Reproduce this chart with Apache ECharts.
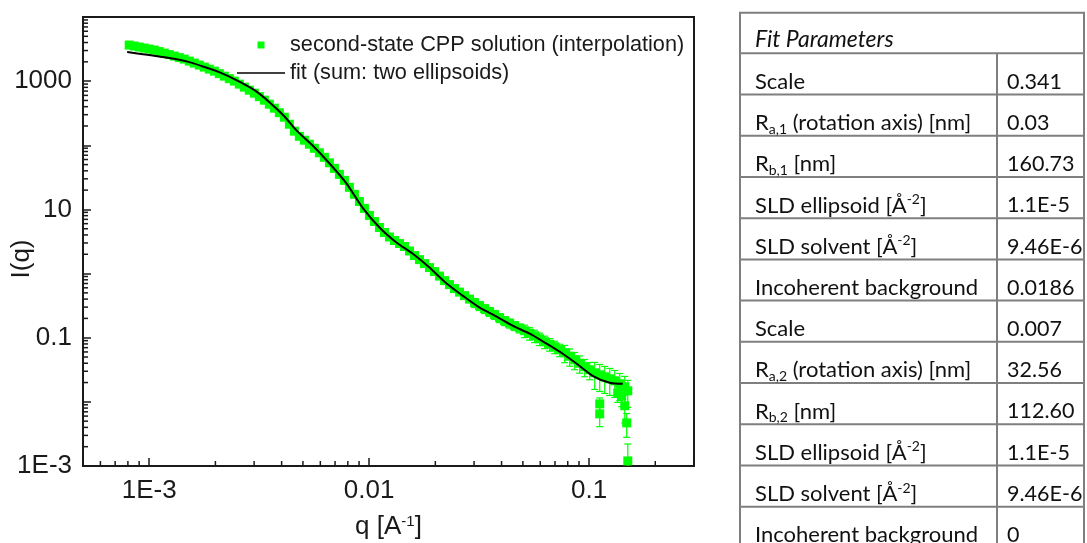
<!DOCTYPE html>
<html><head><meta charset="utf-8">
<script src="https://cdn.jsdelivr.net/npm/echarts@6/dist/echarts.min.js"></script>
<style>html,body{margin:0;padding:0;background:#fff}#c{width:1087px;height:543px}</style>
</head><body><div id="c"></div>
<script>
// ---- measured data: second-state CPP solution (interpolation) ----
const dataQ = [8.11e-4, 8.55e-4, 9.01e-4, 9.49e-4, 1.000e-3, 1.054e-3, 1.111e-3, 1.170e-3, 1.233e-3, 1.300e-3,
 1.370e-3, 1.443e-3, 1.521e-3, 1.603e-3, 1.689e-3, 1.780e-3, 1.876e-3, 1.977e-3, 2.083e-3, 2.195e-3,
 2.313e-3, 2.437e-3, 2.569e-3, 2.707e-3, 2.852e-3, 3.006e-3, 3.168e-3, 3.338e-3, 3.517e-3, 3.707e-3,
 3.906e-3, 4.116e-3, 4.338e-3, 4.571e-3, 4.817e-3, 5.076e-3, 5.349e-3, 5.637e-3, 5.940e-3, 6.259e-3,
 6.596e-3, 6.951e-3, 7.325e-3, 7.718e-3, 8.134e-3, 8.571e-3, 9.032e-3, 9.518e-3, 1.003e-2, 1.057e-2,
 1.114e-2, 1.174e-2, 1.237e-2, 1.304e-2, 1.374e-2, 1.448e-2, 1.526e-2, 1.608e-2, 1.694e-2, 1.785e-2,
 1.881e-2, 1.983e-2, 2.089e-2, 2.202e-2, 2.320e-2, 2.445e-2, 2.577e-2, 2.715e-2, 2.861e-2, 3.015e-2,
 3.177e-2, 3.348e-2, 3.528e-2, 3.718e-2, 3.918e-2, 4.129e-2, 4.351e-2, 4.585e-2, 4.832e-2, 5.092e-2,
 5.365e-2, 5.654e-2, 5.958e-2, 6.281e-2, 6.617e-2, 6.973e-2, 7.349e-2, 7.745e-2, 8.161e-2, 8.600e-2,
 9.063e-2, 9.552e-2, 0.1007, 0.1061, 0.1118, 0.1178, 0.1242, 0.1309, 0.1379, 0.1453, 0.150];
const dataI = [3652, 3523, 3399, 3279, 3162, 3050, 2890, 2738, 2595, 2458,
 2329, 2207, 2054, 1911, 1778, 1655, 1540, 1433, 1310, 1197,
 1094, 1000, 898, 806, 723, 649, 573, 505, 437, 379,
 322, 274, 213, 166, 138, 120, 104, 89.8, 76.4, 64.9,
 53.3, 43.7, 35.2, 28.4, 22.1, 17.2, 13.3, 10.4, 8.06, 6.49,
 5.23, 4.37, 3.72, 3.28, 2.94, 2.64, 2.25, 1.91, 1.65, 1.43,
 1.24, 1.075, 0.914, 0.777, 0.673, 0.583, 0.514, 0.453, 0.400, 0.352,
 0.316, 0.284, 0.255, 0.229, 0.205, 0.184, 0.168, 0.154, 0.141, 0.1286,
 0.1175, 0.1075, 0.0965, 0.0866, 0.0791, 0.0723, 0.0649, 0.0583, 0.0514, 0.0453,
 0.0400, 0.0352, 0.0316, 0.0284, 0.0264, 0.0246, 0.0229, 0.0213, 0.0191, 0.0172, 0.0149];
// relative error of each point (error bar half-height / I)
const dataRelErr = [0.03, 0.03, 0.03, 0.03, 0.03, 0.03, 0.03, 0.03, 0.03, 0.03,
 0.03, 0.03, 0.03, 0.03, 0.03, 0.03, 0.03, 0.03, 0.03, 0.03,
 0.03, 0.03, 0.03, 0.03, 0.03, 0.03, 0.03, 0.03, 0.03, 0.03,
 0.03, 0.03, 0.03, 0.03, 0.03, 0.05, 0.05, 0.05, 0.05, 0.05,
 0.05, 0.05, 0.05, 0.05, 0.05, 0.05, 0.05, 0.05, 0.05, 0.05,
 0.05, 0.05, 0.05, 0.05, 0.05, 0.05, 0.05, 0.05, 0.05, 0.10,
 0.10, 0.10, 0.10, 0.10, 0.10, 0.10, 0.10, 0.10, 0.10, 0.16,
 0.16, 0.16, 0.16, 0.16, 0.16, 0.16, 0.16, 0.16, 0.16, 0.22,
 0.22, 0.22, 0.22, 0.22, 0.22, 0.22, 0.22, 0.30, 0.30, 0.30,
 0.30, 0.30, 0.30, 0.45, 0.45, 0.45, 0.45, 0.45, 0.45, 0.45, 0.45];
// isolated low points at high q (with absolute errors)
const outlierQ = [0.1118, 0.1118, 0.1483, 0.150, 0.1408, 0.1453, 0.135];
const outlierI = [0.0093, 0.0065, 0.0047, 0.0012, 0.0124, 0.0087, 0.0138];
const outlierErr = [0.0022, 0.0024, 0.0019, 0.0010, 0.0040, 0.0040, 0.0040];

// ---- fit (sum: two ellipsoids) ----
const fitQ = [7.94e-4, 1.0e-3, 1.233e-3, 1.52e-3, 1.74e-3, 2.08e-3, 2.49e-3, 3.01e-3, 3.52e-3, 4.11e-3,
 4.67e-3, 5.52e-3, 6.59e-3, 7.88e-3, 9.33e-3, 1.114e-2, 1.331e-2, 1.574e-2, 1.88e-2, 2.25e-2,
 2.66e-2, 3.18e-2, 3.80e-2, 4.49e-2, 5.37e-2, 6.41e-2, 7.59e-2, 8.79e-2, 0.1038, 0.1241, 0.1423];
const fitI = [2840, 2550, 2290, 1980, 1710, 1380, 1037, 723, 470, 284,
 171, 100, 52.4, 25.5, 10.7, 5.23, 3.05, 2.05, 1.24, 0.698,
 0.453, 0.294, 0.213, 0.154, 0.1155, 0.0806, 0.0562, 0.0392, 0.0255, 0.0198, 0.0191];

// ---- axes ----
const xRange = [5e-4, 0.3];
const yRange = [1e-3, 1e4];
const xTickValues = [0.001, 0.01, 0.1];
const xTickLabels = ['1E-3', '0.01', '0.1'];
const yTickValues = [0.001, 0.1, 10, 1000];
const yTickLabels = ['1E-3', '0.1', '10', '1000'];
const minorMultipliers = [2, 3, 4, 5, 6, 7, 8, 9];
const decades = [1e-4, 1e-3, 1e-2, 1e-1, 1, 10, 100, 1000];

// ---- table ----
const tableTitle = 'Fit Parameters';
const paramLabels = ['Scale', 'R{sub|a,1} (rotation axis) [nm]', 'R{sub|b,1} [nm]', 'SLD ellipsoid [Å{sup|-2}]',
 'SLD solvent [Å{sup|-2}]', 'Incoherent background', 'Scale', 'R{sub|a,2} (rotation axis) [nm]', 'R{sub|b,2} [nm]',
 'SLD ellipsoid [Å{sup|-2}]', 'SLD solvent [Å{sup|-2}]', 'Incoherent background'];
const paramValues = ['0.341', '0.03', '160.73', '1.1E-5', '9.46E-6', '0.0186', '0.007', '32.56', '112.60',
 '1.1E-5', '9.46E-6', '0'];

const S1 = 'second-state CPP solution (interpolation)';
const S2 = 'fit (sum: two ellipsoids)';
const GREEN = '#00ff00';
const AX = '#1a1a1a';
const FONT = 'Liberation Sans, Arial, sans-serif';

function makeFmt(vals, labels) {
  return function (v) {
    const lv = Math.log10(v);
    for (let i = 0; i < vals.length; i++) {
      if (Math.abs(lv - Math.log10(vals[i])) < 1e-6) return labels[i];
    }
    return '';
  };
}

const scatterData = dataQ.map((q, i) => [q, dataI[i]]).concat(outlierQ.map((q, i) => [q, outlierI[i]]));
const errData = dataQ.map((q, i) => [q, dataI[i], dataI[i] * dataRelErr[i]])
  .concat(outlierQ.map((q, i) => [q, outlierI[i], outlierErr[i]]));

const xMinor = [], yMinor = [];
decades.forEach(d => minorMultipliers.forEach(m => {
  const v = d * m;
  if (v > xRange[0] * 1.0001 && v < xRange[1] * 0.9999) xMinor.push([v, yRange[0]]);
  if (v > yRange[0] * 1.0001 && v < yRange[1] * 0.9999) yMinor.push([xRange[0], v]);
}));

function minorTickSeries(data, dir) {
  return {
    type: 'custom', silent: true, clip: false, z: 6, data: data,
    renderItem: function (params, api) {
      const p = api.coord([api.value(0), api.value(1)]);
      const len = 5;
      return {
        type: 'line',
        shape: dir === 'x' ? {x1: p[0], y1: p[1], x2: p[0], y2: p[1] - len} : {x1: p[0], y1: p[1], x2: p[0] + len, y2: p[1]},
        style: {stroke: AX, lineWidth: 1.5}
      };
    }
  };
}

// table graphic
const T = {left: 740, right: 1084, top: 12.7, headerH: 40.6, rowH: 41.22, divX: 997, textX: 755, valX: 1007, textDy: 28.5};
const TB = '#7f7f7f';
const TFONT = 'Lato, Calibri, sans-serif';
const TSIZE = 22;
const VSIZE = 21.5;
const graphics = [];
const tBottom = T.top + T.headerH + T.rowH * paramLabels.length;
graphics.push({type: 'rect', shape: {x: T.left, y: T.top, width: T.right - T.left, height: tBottom - T.top},
  style: {fill: '#fff', stroke: TB, lineWidth: 2}, z: 1});
for (let i = 0; i < paramLabels.length; i++) {
  const y = T.top + T.headerH + T.rowH * i;
  graphics.push({type: 'line', shape: {x1: T.left, y1: y, x2: T.right, y2: y}, style: {stroke: TB, lineWidth: 2}, z: 2});
}
graphics.push({type: 'line', shape: {x1: T.divX, y1: T.top + T.headerH, x2: T.divX, y2: tBottom}, style: {stroke: TB, lineWidth: 2}, z: 2});
const richT = {
  sub: {fontSize: 14, lineHeight: 14, verticalAlign: 'bottom', fontFamily: TFONT, fill: '#111'},
  sup: {fontSize: 14, lineHeight: 14, verticalAlign: 'top', fontFamily: TFONT, fill: '#111'}
};
graphics.push({type: 'text', x: T.textX, y: T.top + 26.5, z: 3,
  style: {text: tableTitle, fontFamily: TFONT, fontSize: 23, fontStyle: 'italic', fill: '#111', verticalAlign: 'middle'}});
paramLabels.forEach((lab, i) => {
  const yc = T.top + T.headerH + T.rowH * i + T.textDy;
  graphics.push({type: 'text', x: T.textX, y: yc, z: 3,
    style: {text: lab, fontFamily: TFONT, fontSize: TSIZE, lineHeight: 26, fill: '#111', verticalAlign: 'middle', rich: richT}});
  graphics.push({type: 'text', x: T.valX, y: yc, z: 3,
    style: {text: paramValues[i], fontFamily: TFONT, fontSize: VSIZE, lineHeight: 26, fill: '#111', verticalAlign: 'middle'}});
});

const chart = echarts.init(document.getElementById('c'), null, {renderer: 'canvas'});
chart.setOption({
  animation: false,
  backgroundColor: '#fff',
  grid: {left: 83, top: 17, width: 611, height: 449, containLabel: false, outerBoundsMode: 'none',
    show: true, borderColor: AX, borderWidth: 2, backgroundColor: 'transparent'},
  legend: {
    orient: 'vertical', left: 237, top: 34, padding: 0, itemWidth: 48, itemHeight: 14, itemGap: 6, selectedMode: false,
    textStyle: {fontFamily: FONT, fontSize: 21.7, color: AX},
    data: [{name: S1, icon: 'path://M0,0M48,14M20.5,3.5h7v7h-7z'}, {name: S2, icon: 'path://M0,0M48,14M0,6.2h48v1.6h-48z'}]
  },
  xAxis: {
    type: 'log', logBase: 10, min: xRange[0], max: xRange[1],
    name: 'q [A{sup|-1}]', nameLocation: 'middle', nameGap: 48, nameMoveOverlap: false,
    nameTextStyle: {fontFamily: FONT, fontSize: 26, color: AX, rich: {sup: {fontSize: 15, lineHeight: 15, verticalAlign: 'top', fontFamily: FONT, color: AX}}},
    axisLine: {show: true, lineStyle: {color: AX, width: 2}},
    axisTick: {show: true, inside: true, length: 8, lineStyle: {color: AX, width: 1.5}},
    axisLabel: {fontFamily: FONT, fontSize: 26, color: AX, margin: 12, formatter: makeFmt(xTickValues, xTickLabels)},
    splitLine: {show: false}, minorTick: {show: false}
  },
  yAxis: {
    type: 'log', logBase: 10, min: yRange[0], max: yRange[1],
    name: 'I(q)', nameLocation: 'middle', nameRotate: 90, nameGap: 48, nameMoveOverlap: false,
    nameTextStyle: {fontFamily: FONT, fontSize: 26, color: AX, padding: [0, 35, 0, 0]},
    axisLine: {show: true, lineStyle: {color: AX, width: 2}},
    axisTick: {show: true, inside: true, length: 8, lineStyle: {color: AX, width: 1.5}},
    axisLabel: {fontFamily: FONT, fontSize: 26, color: AX, margin: 11, formatter: makeFmt(yTickValues, yTickLabels)},
    splitLine: {show: false}, minorTick: {show: false}
  },
  graphic: {elements: graphics},
  series: [
    {
      type: 'custom', name: 'errorbars', silent: true, clip: true, z: 2, data: errData,
      renderItem: function (params, api) {
        const q = api.value(0), v = api.value(1), s = api.value(2);
        const hi = api.coord([q, v + s]);
        const lo = api.coord([q, v - s > 0 ? v - s : v * 1e-4]);
        const c = 3.5;
        const st = {stroke: GREEN, lineWidth: 1.2};
        return {type: 'group', children: [
          {type: 'line', shape: {x1: hi[0], y1: hi[1], x2: lo[0], y2: lo[1]}, style: st},
          {type: 'line', shape: {x1: hi[0] - c, y1: hi[1], x2: hi[0] + c, y2: hi[1]}, style: st},
          {type: 'line', shape: {x1: lo[0] - c, y1: lo[1], x2: lo[0] + c, y2: lo[1]}, style: st}
        ]};
      }
    },
    {type: 'scatter', name: S1, symbol: 'rect', symbolSize: 9, z: 3, itemStyle: {color: GREEN, opacity: 1}, data: scatterData},
    {type: 'line', name: S2, symbol: 'none', smooth: 0.25, z: 4, lineStyle: {color: '#000', width: 2}, itemStyle: {color: '#000'},
      data: fitQ.map((q, i) => [q, fitI[i]])},
    minorTickSeries(xMinor, 'x'),
    minorTickSeries(yMinor, 'y')
  ]
});
</script></body></html>
